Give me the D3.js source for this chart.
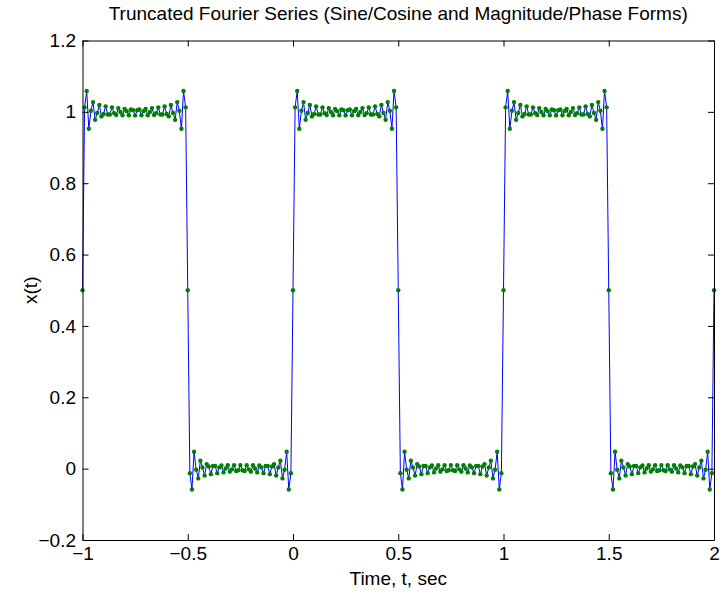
<!DOCTYPE html>
<html><head><meta charset="utf-8">
<script src="https://cdn.jsdelivr.net/npm/d3@7"></script>
<style>
body{margin:0;background:#fff}
text{font-family:"Liberation Sans",Arial,Helvetica,sans-serif;fill:#000}
</style></head>
<body>
<svg id="chart" width="722" height="595"></svg>
<script>
// Sample times (s), -1 to 2 in steps of 0.01
const times = [
-1,-0.99,-0.98,-0.97,-0.96,-0.95,-0.94,-0.93,-0.92,-0.91,-0.9,-0.89,-0.88,-0.87,-0.86,-0.85,-0.84,-0.83,-0.82,-0.81,
-0.8,-0.79,-0.78,-0.77,-0.76,-0.75,-0.74,-0.73,-0.72,-0.71,-0.7,-0.69,-0.68,-0.67,-0.66,-0.65,-0.64,-0.63,-0.62,-0.61,
-0.6,-0.59,-0.58,-0.57,-0.56,-0.55,-0.54,-0.53,-0.52,-0.51,-0.5,-0.49,-0.48,-0.47,-0.46,-0.45,-0.44,-0.43,-0.42,-0.41,
-0.4,-0.39,-0.38,-0.37,-0.36,-0.35,-0.34,-0.33,-0.32,-0.31,-0.3,-0.29,-0.28,-0.27,-0.26,-0.25,-0.24,-0.23,-0.22,-0.21,
-0.2,-0.19,-0.18,-0.17,-0.16,-0.15,-0.14,-0.13,-0.12,-0.11,-0.1,-0.09,-0.08,-0.07,-0.06,-0.05,-0.04,-0.03,-0.02,-0.01,
0,0.01,0.02,0.03,0.04,0.05,0.06,0.07,0.08,0.09,0.1,0.11,0.12,0.13,0.14,0.15,0.16,0.17,0.18,0.19,
0.2,0.21,0.22,0.23,0.24,0.25,0.26,0.27,0.28,0.29,0.3,0.31,0.32,0.33,0.34,0.35,0.36,0.37,0.38,0.39,
0.4,0.41,0.42,0.43,0.44,0.45,0.46,0.47,0.48,0.49,0.5,0.51,0.52,0.53,0.54,0.55,0.56,0.57,0.58,0.59,
0.6,0.61,0.62,0.63,0.64,0.65,0.66,0.67,0.68,0.69,0.7,0.71,0.72,0.73,0.74,0.75,0.76,0.77,0.78,0.79,
0.8,0.81,0.82,0.83,0.84,0.85,0.86,0.87,0.88,0.89,0.9,0.91,0.92,0.93,0.94,0.95,0.96,0.97,0.98,0.99,
1,1.01,1.02,1.03,1.04,1.05,1.06,1.07,1.08,1.09,1.1,1.11,1.12,1.13,1.14,1.15,1.16,1.17,1.18,1.19,
1.2,1.21,1.22,1.23,1.24,1.25,1.26,1.27,1.28,1.29,1.3,1.31,1.32,1.33,1.34,1.35,1.36,1.37,1.38,1.39,
1.4,1.41,1.42,1.43,1.44,1.45,1.46,1.47,1.48,1.49,1.5,1.51,1.52,1.53,1.54,1.55,1.56,1.57,1.58,1.59,
1.6,1.61,1.62,1.63,1.64,1.65,1.66,1.67,1.68,1.69,1.7,1.71,1.72,1.73,1.74,1.75,1.76,1.77,1.78,1.79,
1.8,1.81,1.82,1.83,1.84,1.85,1.86,1.87,1.88,1.89,1.9,1.91,1.92,1.93,1.94,1.95,1.96,1.97,1.98,1.99,
2
];

// x(t) values, first cycle (t = -1 ... -0.01)
const cycle1 = [
0.5,1.0126,1.0585,0.9527,1.0029,1.0273,0.9776,0.997,1.0195,0.9872,
0.9941,1.0155,0.9926,0.9924,1.0127,0.9965,0.9913,1.0105,0.9995,0.9906,
1.0084,1.002,0.9902,1.0064,1.0043,0.9901,1.0043,1.0064,0.9902,1.002,
1.0084,0.9906,0.9995,1.0105,0.9913,0.9965,1.0127,0.9924,0.9926,1.0155,
0.9941,0.9872,1.0195,0.997,0.9776,1.0273,1.0029,0.9527,1.0585,1.0126,
0.5,-0.0126,-0.0585,0.0473,-0.0029,-0.0273,0.0224,0.003,-0.0195,0.0128,
0.0059,-0.0155,0.0074,0.0076,-0.0127,0.0035,0.0087,-0.0105,0.0005,0.0094,
-0.0084,-0.002,0.0098,-0.0064,-0.0043,0.0099,-0.0043,-0.0064,0.0098,-0.002,
-0.0084,0.0094,0.0005,-0.0105,0.0087,0.0035,-0.0127,0.0076,0.0074,-0.0155,
0.0059,0.0128,-0.0195,0.003,0.0224,-0.0273,-0.0029,0.0473,-0.0585,-0.0126
];
// second cycle (t = 0 ... 0.99)
const cycle2 = [
0.5,1.0126,1.0585,0.9527,1.0029,1.0273,0.9776,0.997,1.0195,0.9872,
0.9941,1.0155,0.9926,0.9924,1.0127,0.9965,0.9913,1.0105,0.9995,0.9906,
1.0084,1.002,0.9902,1.0064,1.0043,0.9901,1.0043,1.0064,0.9902,1.002,
1.0084,0.9906,0.9995,1.0105,0.9913,0.9965,1.0127,0.9924,0.9926,1.0155,
0.9941,0.9872,1.0195,0.997,0.9776,1.0273,1.0029,0.9527,1.0585,1.0126,
0.5,-0.0126,-0.0585,0.0473,-0.0029,-0.0273,0.0224,0.003,-0.0195,0.0128,
0.0059,-0.0155,0.0074,0.0076,-0.0127,0.0035,0.0087,-0.0105,0.0005,0.0094,
-0.0084,-0.002,0.0098,-0.0064,-0.0043,0.0099,-0.0043,-0.0064,0.0098,-0.002,
-0.0084,0.0094,0.0005,-0.0105,0.0087,0.0035,-0.0127,0.0076,0.0074,-0.0155,
0.0059,0.0128,-0.0195,0.003,0.0224,-0.0273,-0.0029,0.0473,-0.0585,-0.0126
];
// third cycle (t = 1 ... 1.99) plus end point t = 2
const cycle3 = [
0.5,1.0126,1.0585,0.9527,1.0029,1.0273,0.9776,0.997,1.0195,0.9872,
0.9941,1.0155,0.9926,0.9924,1.0127,0.9965,0.9913,1.0105,0.9995,0.9906,
1.0084,1.002,0.9902,1.0064,1.0043,0.9901,1.0043,1.0064,0.9902,1.002,
1.0084,0.9906,0.9995,1.0105,0.9913,0.9965,1.0127,0.9924,0.9926,1.0155,
0.9941,0.9872,1.0195,0.997,0.9776,1.0273,1.0029,0.9527,1.0585,1.0126,
0.5,-0.0126,-0.0585,0.0473,-0.0029,-0.0273,0.0224,0.003,-0.0195,0.0128,
0.0059,-0.0155,0.0074,0.0076,-0.0127,0.0035,0.0087,-0.0105,0.0005,0.0094,
-0.0084,-0.002,0.0098,-0.0064,-0.0043,0.0099,-0.0043,-0.0064,0.0098,-0.002,
-0.0084,0.0094,0.0005,-0.0105,0.0087,0.0035,-0.0127,0.0076,0.0074,-0.0155,
0.0059,0.0128,-0.0195,0.003,0.0224,-0.0273,-0.0029,0.0473,-0.0585,-0.0126,
0.5
];

const xTicks = [-1, -0.5, 0, 0.5, 1, 1.5, 2];
const xTickLabels = ["\u22121", "\u22120.5", "0", "0.5", "1", "1.5", "2"];
const yTicks = [-0.2, 0, 0.2, 0.4, 0.6, 0.8, 1, 1.2];
const yTickLabels = ["\u22120.2", "0", "0.2", "0.4", "0.6", "0.8", "1", "1.2"];

const titleText = "Truncated Fourier Series (Sine/Cosine and Magnitude/Phase Forms)";
const xLabelText = "Time, t, sec";
const yLabelText = "x(t)";

const values = cycle1.concat(cycle2, cycle3);
const data = times.map((t, i) => ({t: t, v: values[i]}));

const M = {left: 82.5, right: 714, top: 40.5, bottom: 540};
const svg = d3.select("#chart");

const x = d3.scaleLinear().domain([-1, 2]).range([M.left, M.right]);
const y = d3.scaleLinear().domain([-0.2, 1.2]).range([M.bottom, M.top]);

const fs = 19;
const tickLen = 6;

// data line
const line = d3.line().x(d => x(d.t)).y(d => y(d.v));
svg.append("path").datum(data)
  .attr("d", line).attr("fill", "none")
  .attr("stroke", "#0000ff").attr("stroke-width", 1);

// markers
svg.append("g").selectAll("circle").data(data).join("circle")
  .attr("cx", d => x(d.t)).attr("cy", d => y(d.v))
  .attr("r", 2.2).attr("fill", "#008000");

// axes (box with inward ticks)
const bottomAxis = d3.axisBottom(x).tickValues(xTicks)
  .tickFormat((d, i) => xTickLabels[i]).tickSizeInner(-tickLen).tickSizeOuter(0).tickPadding(7);
const topAxis = d3.axisTop(x).tickValues(xTicks).tickFormat("").tickSizeInner(-tickLen).tickSizeOuter(0);
const leftAxis = d3.axisLeft(y).tickValues(yTicks)
  .tickFormat((d, i) => yTickLabels[i]).tickSizeInner(-tickLen).tickSizeOuter(0).tickPadding(6.5);
const rightAxis = d3.axisRight(y).tickValues(yTicks).tickFormat("").tickSizeInner(-tickLen).tickSizeOuter(0);

function style(g) {
  g.select(".domain").attr("stroke", "#000").attr("stroke-width", 1);
  g.selectAll(".tick line").attr("stroke", "#000").attr("stroke-width", 1);
  g.selectAll(".tick text").attr("font-size", fs).attr("font-family", "Liberation Sans, Arial, sans-serif").attr("fill", "#000");
}
svg.append("g").attr("transform", `translate(0,${M.bottom})`).call(bottomAxis).call(style);
svg.append("g").attr("transform", `translate(0,${M.top})`).call(topAxis).call(style);
svg.append("g").attr("transform", `translate(${M.left},0)`).call(leftAxis).call(style);
svg.append("g").attr("transform", `translate(${M.right},0)`).call(rightAxis).call(style);

// title and labels
svg.append("text").attr("x", (M.left + M.right) / 2).attr("y", 20)
  .attr("text-anchor", "middle").attr("font-size", fs).text(titleText);
svg.append("text").attr("x", (M.left + M.right) / 2).attr("y", 585)
  .attr("text-anchor", "middle").attr("font-size", fs).text(xLabelText);
svg.append("text").attr("transform", `translate(37,${(M.top + M.bottom) / 2}) rotate(-90)`)
  .attr("text-anchor", "middle").attr("font-size", fs).text(yLabelText);
</script>
</body></html>
